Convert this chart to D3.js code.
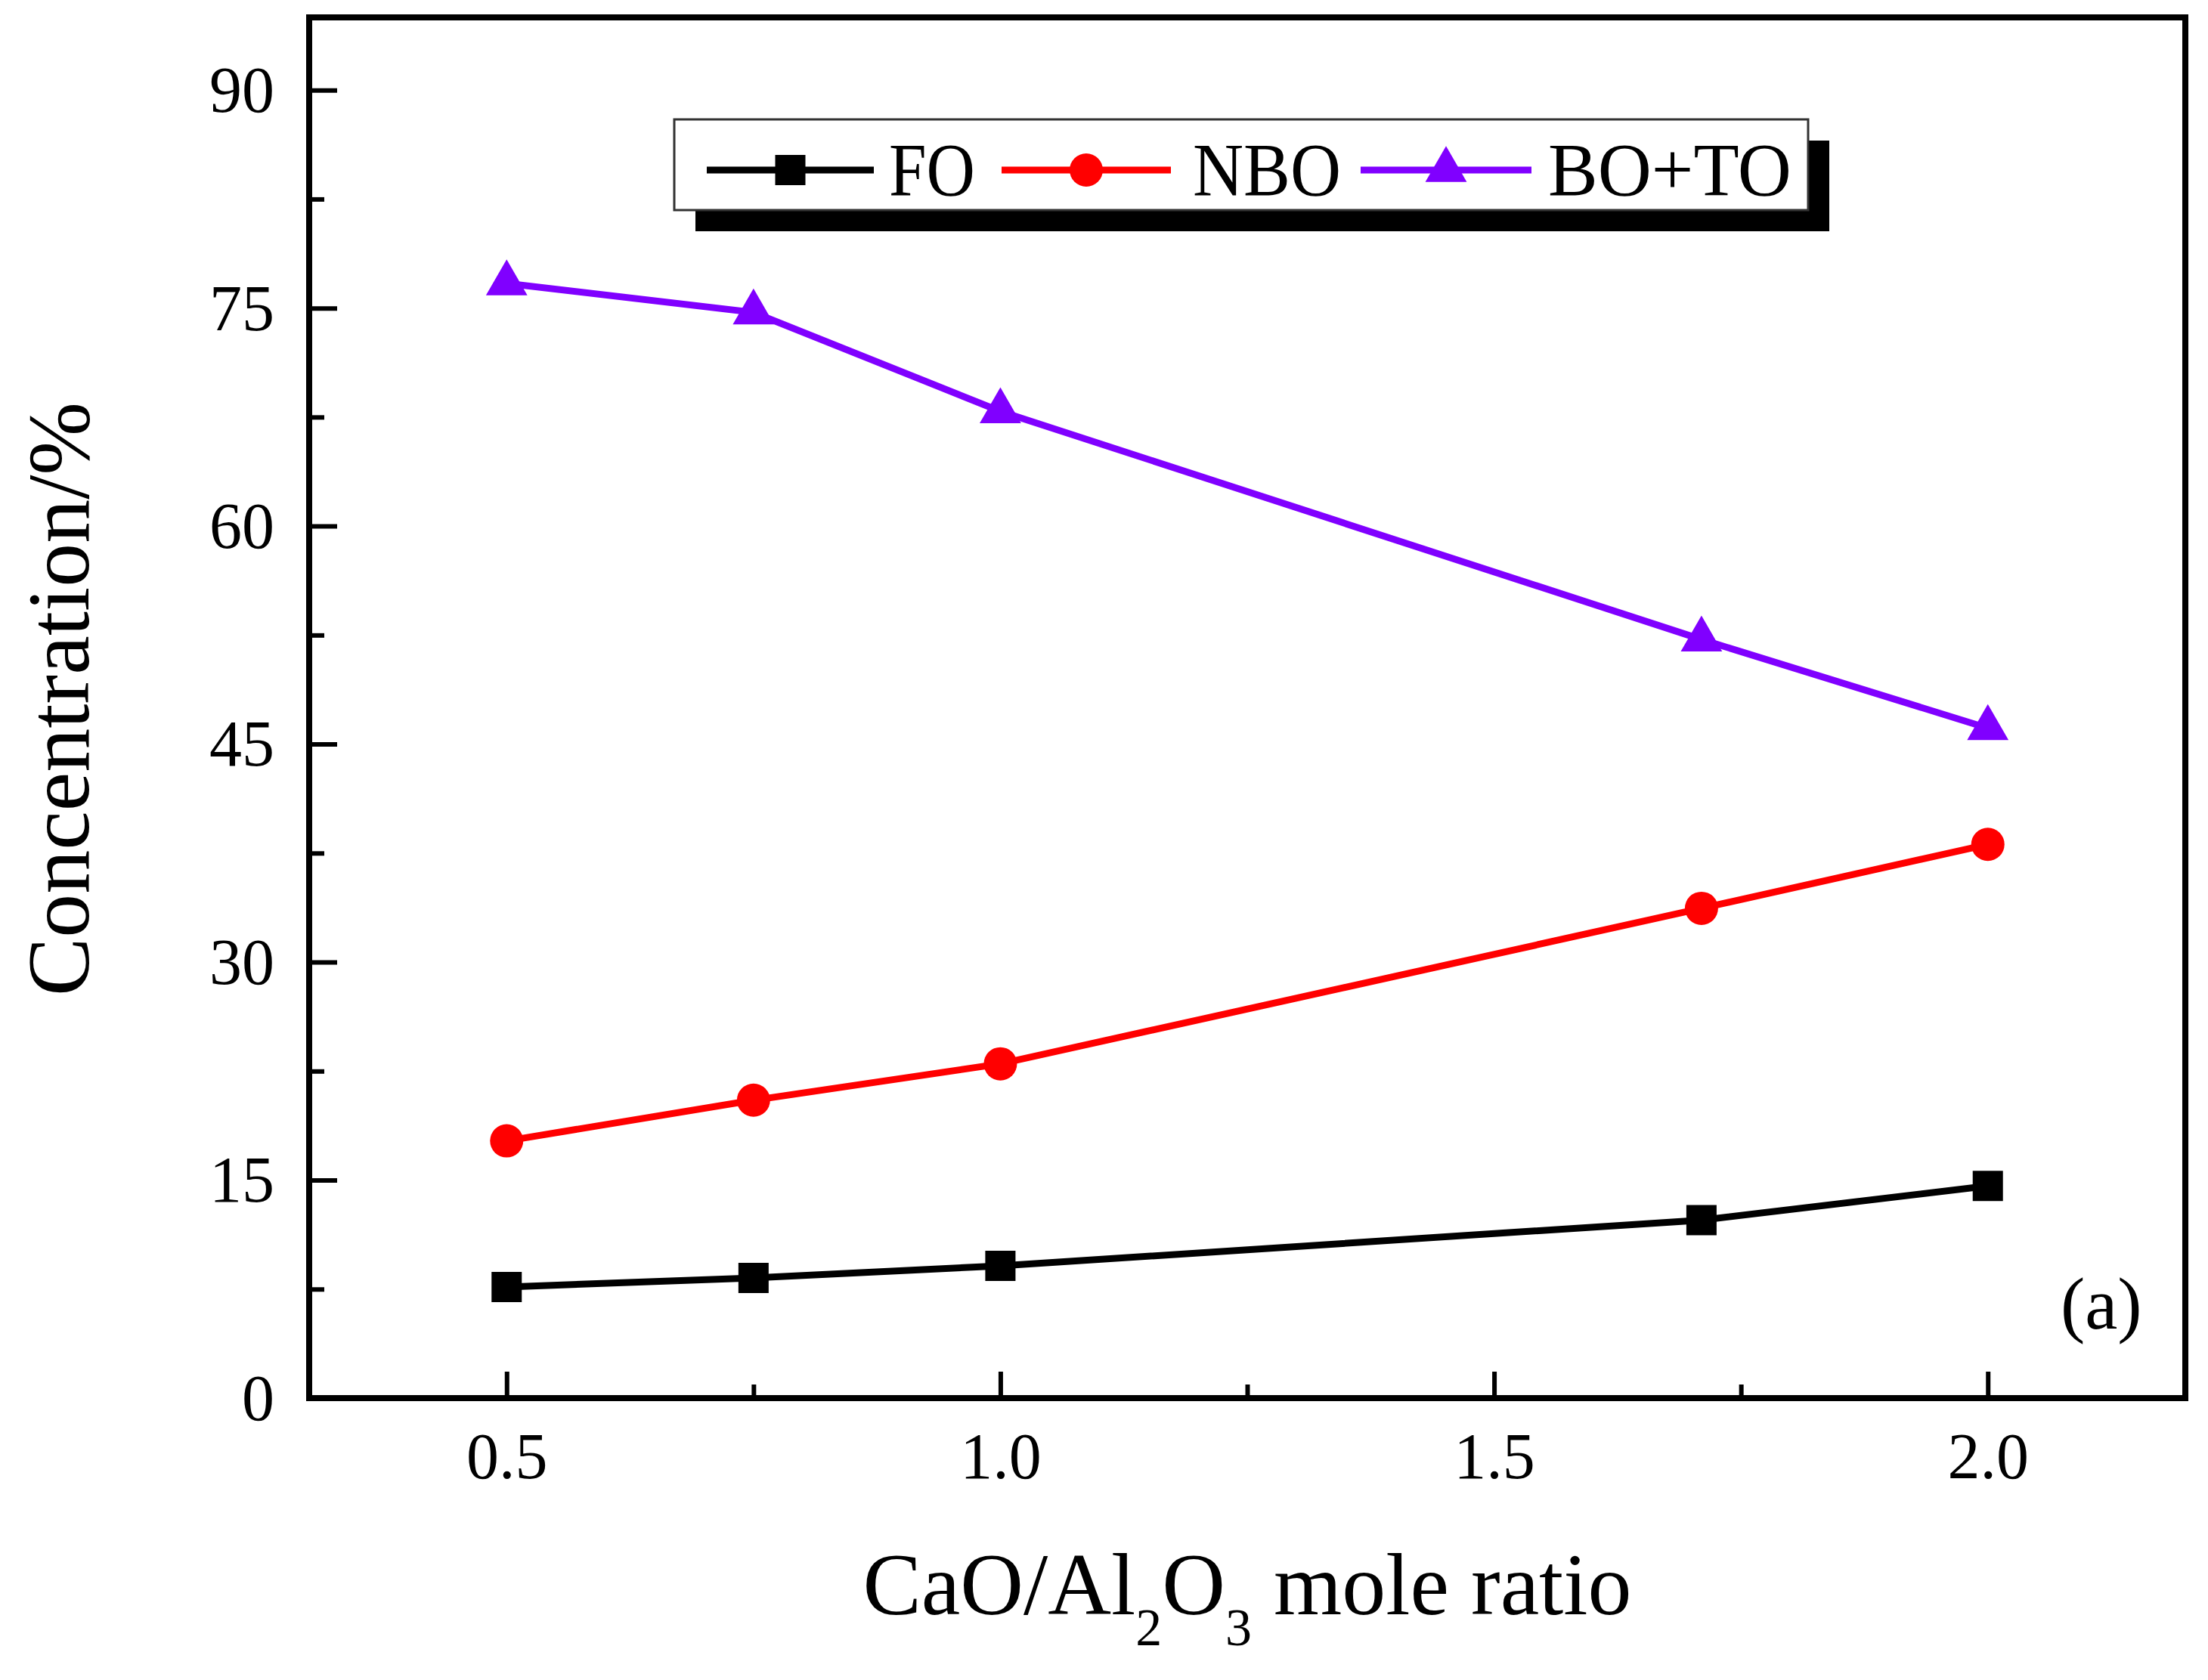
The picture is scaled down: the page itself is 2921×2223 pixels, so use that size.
<!DOCTYPE html>
<html>
<head>
<meta charset="utf-8">
<script src="https://cdn.jsdelivr.net/npm/d3@7"></script>
<style>
  html, body { margin: 0; padding: 0; background: #ffffff; }
  svg { display: block; }
  text { font-family: "Liberation Serif", "Times New Roman", serif; fill: #000; }
</style>
</head>
<body>
<svg id="chart" width="2921" height="2223"></svg>
<script>
// ---- data ----
const ratio = [0.5, 0.75, 1.0, 1.71, 2.0];
const FO    = [7.65, 8.27, 9.1, 12.25, 14.6];
const NBO   = [17.7, 20.5, 23.0, 33.7, 38.1];
const BOTO  = [76.7, 74.7, 67.9, 52.2, 46.1];
const seriesNames = ["FO", "NBO", "BO+TO"];
const xMajorTicks = [0.5, 1.0, 1.5, 2.0];
const xMinorTicks = [0.75, 1.25, 1.75];
const yMajorTicks = [0, 15, 30, 45, 60, 75, 90];
const yMinorTicks = [7.5, 22.5, 37.5, 52.5, 67.5, 82.5];

// ---- layout ----
const W = 2921, H = 2223;
const L = 409, R = 2891, T = 23, B = 1850;
const svg = d3.select("#chart");
svg.append("rect").attr("width", W).attr("height", H).attr("fill", "#fff");

const x = d3.scaleLinear().domain([0.3, 2.2]).range([L, R]);
const y = d3.scaleLinear().domain([0, 95]).range([B, T]);

const series = [
  { name: seriesNames[0], values: FO,   color: "#000000", symbol: d3.symbolSquare,   size: 1600 },
  { name: seriesNames[1], values: NBO,  color: "#FF0000", symbol: d3.symbolCircle,   size: 1520 },
  { name: seriesNames[2], values: BOTO, color: "#8000FF", symbol: d3.symbolTriangle, size: 1300 }
];

// ---- axes (inward ticks) ----
function styleAxis(g) {
  g.select(".domain").remove();
  g.selectAll(".tick line").attr("stroke", "#000").attr("stroke-width", 6);
  g.selectAll(".tick text").style("font-family", '"Liberation Serif", serif').attr("fill", "#000");
}
const gx = svg.append("g").attr("transform", `translate(0,${B})`)
  .call(d3.axisBottom(x).tickValues(xMajorTicks).tickFormat(d3.format(".1f"))
    .tickSizeInner(-35).tickSizeOuter(0).tickPadding(0));
styleAxis(gx);
gx.selectAll(".tick text").attr("font-size", 86).attr("dy", null).attr("y", 106);

const gxm = svg.append("g").attr("transform", `translate(0,${B})`)
  .call(d3.axisBottom(x).tickValues(xMinorTicks).tickFormat("").tickSizeInner(-18).tickSizeOuter(0));
styleAxis(gxm);

const gy = svg.append("g").attr("transform", `translate(${L},0)`)
  .call(d3.axisLeft(y).tickValues(yMajorTicks).tickFormat(d3.format("d"))
    .tickSizeInner(-37).tickSizeOuter(0).tickPadding(0));
styleAxis(gy);
gy.selectAll(".tick text").attr("font-size", 86).attr("x", -46).attr("dy", "0.33em");

const gym = svg.append("g").attr("transform", `translate(${L},0)`)
  .call(d3.axisLeft(y).tickValues(yMinorTicks).tickFormat("").tickSizeInner(-20).tickSizeOuter(0));
styleAxis(gym);

// frame
svg.append("rect").attr("x", L).attr("y", T).attr("width", R - L).attr("height", B - T)
  .attr("fill", "none").attr("stroke", "#000").attr("stroke-width", 8);

// ---- series ----
const line = d3.line().x((d, i) => x(ratio[i])).y(d => y(d));
series.forEach(s => {
  svg.append("path").datum(s.values).attr("d", line)
    .attr("fill", "none").attr("stroke", s.color).attr("stroke-width", 9)
    .attr("stroke-linejoin", "miter");
  svg.append("g").selectAll("path").data(s.values).join("path")
    .attr("transform", (d, i) => `translate(${x(ratio[i])},${y(d)})`)
    .attr("d", d3.symbol().type(s.symbol).size(s.size)())
    .attr("fill", s.color);
});

// ---- legend ----
const lg = svg.append("g");
lg.append("rect").attr("x", 920).attr("y", 186).attr("width", 1500).attr("height", 120).attr("fill", "#000");
lg.append("rect").attr("x", 892).attr("y", 158).attr("width", 1500).attr("height", 120)
  .attr("fill", "#fff").attr("stroke", "#333").attr("stroke-width", 3);
const legendItems = [
  { x0: 935, x1: 1156, tx: 1176 },
  { x0: 1325, x1: 1549, tx: 1578 },
  { x0: 1800, x1: 2026, tx: 2048 }
];
series.forEach((s, i) => {
  const it = legendItems[i];
  const ly = 225;
  lg.append("line").attr("x1", it.x0).attr("x2", it.x1).attr("y1", ly).attr("y2", ly)
    .attr("stroke", s.color).attr("stroke-width", 9);
  lg.append("path").attr("transform", `translate(${(it.x0 + it.x1) / 2},${ly})`)
    .attr("d", d3.symbol().type(s.symbol).size(s.size)()).attr("fill", s.color);
  lg.append("text").attr("x", it.tx).attr("y", 258).attr("font-size", 100)
    .attr("textLength", [114, 196, 322][i]).attr("lengthAdjust", "spacingAndGlyphs")
    .text(s.name);
});

// ---- axis titles ----
const xt = svg.append("text").attr("x", (L + R) / 2).attr("y", 2136)
  .attr("text-anchor", "middle").attr("font-size", 116);
xt.append("tspan").text("CaO/Al");
xt.append("tspan").attr("font-size", 70).attr("dy", 41).text("2");
xt.append("tspan").attr("dy", -41).text("O");
xt.append("tspan").attr("font-size", 70).attr("dy", 41).text("3");
xt.append("tspan").attr("dy", -41).text(" mole ratio");

svg.append("text").attr("transform", `translate(117,925) rotate(-90)`)
  .attr("text-anchor", "middle").attr("font-size", 116).text("Concentration/%");

svg.append("text").attr("x", 2726).attr("y", 1758).attr("font-size", 97).text("(a)");
</script>
</body>
</html>
